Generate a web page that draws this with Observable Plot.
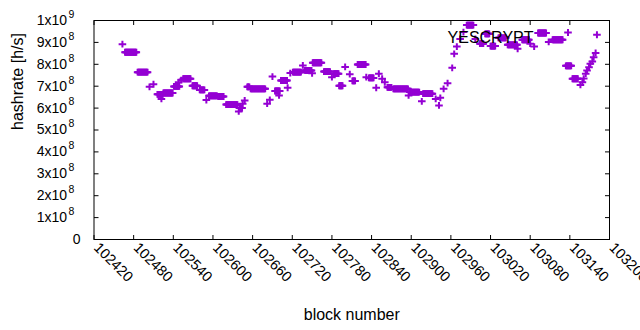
<!DOCTYPE html>
<html>
<head>
<meta charset="utf-8">
<script src="https://cdn.jsdelivr.net/npm/d3@7"></script>
<script src="https://cdn.jsdelivr.net/npm/@observablehq/plot@0.6"></script>
<style>
  html, body { margin: 0; padding: 0; background: white; }
</style>
</head>
<body>
<div id="chart"></div>
<script>
// Runs of consecutive blocks that share one hashrate value (solid bands of "+" markers)
const runFrom = [102467,102486,102516,102525,102541,102555,102569,102580,102594,102608,102620,102640,102652,102657,102694,102703,102721,102739,102751,102768,102783,102791,102811,102819,102836,102864,102873,102898,102918,102984,103004,103012,103020,103032,103046,103068,103092,103114,103134,103144];
const runTo   = [102484,102501,102524,102539,102549,102566,102576,102587,102606,102616,102637,102644,102655,102679,102701,102712,102733,102749,102764,102777,102790,102796,102815,102831,102843,102870,102895,102912,102932,102994,103009,103018,103027,103043,103060,103078,103104,103129,103142,103152];
const runRate = [8.55e8,7.64e8,6.63e8,6.69e8,6.99e8,7.34e8,7.02e8,6.83e8,6.56e8,6.53e8,6.16e8,6.00e8,6.97e8,6.88e8,6.78e8,7.26e8,7.64e8,7.72e8,8.07e8,7.67e8,7.57e8,7.02e8,7.24e8,7.99e8,7.38e8,6.95e8,6.88e8,6.73e8,6.66e8,9.79e8,8.94e8,9.39e8,8.83e8,9.21e8,8.89e8,9.12e8,9.43e8,9.12e8,7.93e8,7.34e8];

// Isolated blocks
const pointBlock = [102463,102504,102510,102522,102548,102552,102590,102639,102645,102648,102682,102686,102690,102700,102713,102717,102736,102750,102780,102800,102807,102832,102847,102851,102856,102860,102896,102916,102937,102942,102944,102949,102955,102962,102965,102969,102974,102979,102997,103061,103080,103086,103108,103156,103159,103161,103164,103166,103169,103171,103174,103176,103179,103181];
const pointRate  = [8.92e8,6.97e8,7.09e8,6.42e8,7.18e8,7.28e8,6.37e8,5.85e8,6.20e8,6.35e8,6.20e8,6.38e8,7.44e8,6.58e8,6.93e8,7.60e8,7.95e8,7.59e8,7.41e8,7.88e8,7.55e8,7.41e8,6.93e8,7.57e8,7.34e8,7.18e8,6.58e8,6.31e8,6.42e8,6.12e8,6.47e8,6.88e8,7.14e8,7.84e8,8.48e8,8.81e8,9.16e8,9.47e8,9.16e8,8.71e8,8.94e8,8.81e8,9.02e8,7.06e8,7.18e8,7.35e8,7.57e8,7.72e8,7.87e8,8.02e8,8.13e8,8.32e8,8.52e8,9.35e8];

const xTicks = [102420,102480,102540,102600,102660,102720,102780,102840,102900,102960,103020,103080,103140,103200];
const yTicks = [0,1e8,2e8,3e8,4e8,5e8,6e8,7e8,8e8,9e8,1e9];
const yMantissa = ["0","1","2","3","4","5","6","7","8","9","1"];
const yExponent = ["","8","8","8","8","8","8","8","8","8","9"];

const seriesName = "YESCRYPT";
const color = "#9400d3";

const points = [];
runFrom.forEach((f, i) => {
  for (let b = f; b <= runTo[i]; b++) points.push({block: b, rate: runRate[i]});
});
pointBlock.forEach((b, i) => points.push({block: b, rate: pointRate[i]}));

const plusSym = {draw(ctx) { ctx.moveTo(-3.8, 0); ctx.lineTo(3.8, 0); ctx.moveTo(0, -3.4); ctx.lineTo(0, 3.4); }};
const tickUp = {draw(ctx) { ctx.moveTo(0, 0); ctx.lineTo(0, -4.5); }};
const tickDown = {draw(ctx) { ctx.moveTo(0, 0); ctx.lineTo(0, 4.5); }};
const tickRight = {draw(ctx) { ctx.moveTo(0, 0); ctx.lineTo(4.5, 0); }};
const tickLeft = {draw(ctx) { ctx.moveTo(0, 0); ctx.lineTo(-4.5, 0); }};

const yRows = yTicks.map((v, i) => ({v, m: yMantissa[i], e: yExponent[i]}));
const yPow = yRows.filter(d => d.e !== "");
const yZero = yRows.filter(d => d.e === "");

const font = "'Liberation Sans', Arial, sans-serif";

const chart = Plot.plot({
  width: 640,
  height: 330,
  marginLeft: 93.5,
  marginRight: 31,
  marginTop: 20,
  marginBottom: 91,
  style: {fontFamily: font, fontSize: "14px", background: "white", color: "black"},
  x: {domain: [102420, 103200], axis: null},
  y: {domain: [0, 1e9], axis: null},
  marks: [
    Plot.dot(points, {x: "block", y: "rate", symbol: plusSym, r: 4, fill: "none", stroke: color, strokeWidth: 2}),
    // ticks (inward, mirrored)
    Plot.dot(xTicks, {x: d => d, frameAnchor: "bottom", symbol: tickUp, r: 1, fill: "none", stroke: "black", strokeWidth: 1}),
    Plot.dot(xTicks, {x: d => d, frameAnchor: "top", symbol: tickDown, r: 1, fill: "none", stroke: "black", strokeWidth: 1}),
    Plot.dot(yTicks, {y: d => d, frameAnchor: "left", symbol: tickRight, r: 1, fill: "none", stroke: "black", strokeWidth: 1}),
    Plot.dot(yTicks, {y: d => d, frameAnchor: "right", symbol: tickLeft, r: 1, fill: "none", stroke: "black", strokeWidth: 1}),
    Plot.frame({stroke: "black", strokeWidth: 1}),
    // x tick labels
    Plot.text(xTicks, {x: d => d, frameAnchor: "bottom", text: d => String(d), rotate: 45, textAnchor: "start", dx: -1, dy: 9, fontSize: 14.5, fill: "black"}),
    // y tick labels
    Plot.text(yPow, {y: "v", frameAnchor: "left", text: d => d.m + "x10", textAnchor: "end", dx: -27, dy: 0, fontSize: 14, fill: "black"}),
    Plot.text(yPow, {y: "v", frameAnchor: "left", text: "e", textAnchor: "start", dx: -25.5, dy: -6, fontSize: 10.5, fill: "black"}),
    Plot.text(yZero, {y: "v", frameAnchor: "left", text: "m", textAnchor: "end", dx: -13.5, fontSize: 14, fill: "black"}),
    // axis labels
    Plot.text(["block number"], {frameAnchor: "bottom", dy: 80, fontSize: 16, fill: "black"}),
    Plot.text(["hashrate [h/s]"], {frameAnchor: "left", dx: -76.5, rotate: -90, fontSize: 16, fill: "black"}),
    // key
    Plot.text([seriesName], {frameAnchor: "top-right", dx: -76, dy: 11.5, textAnchor: "end", fontSize: 16, fill: "black"}),
    Plot.dot([seriesName], {frameAnchor: "top-right", dx: -41.5, dy: 12, symbol: plusSym, r: 4, fill: "none", stroke: color, strokeWidth: 2})
  ]
});
document.getElementById("chart").appendChild(chart);
</script>
</body>
</html>
